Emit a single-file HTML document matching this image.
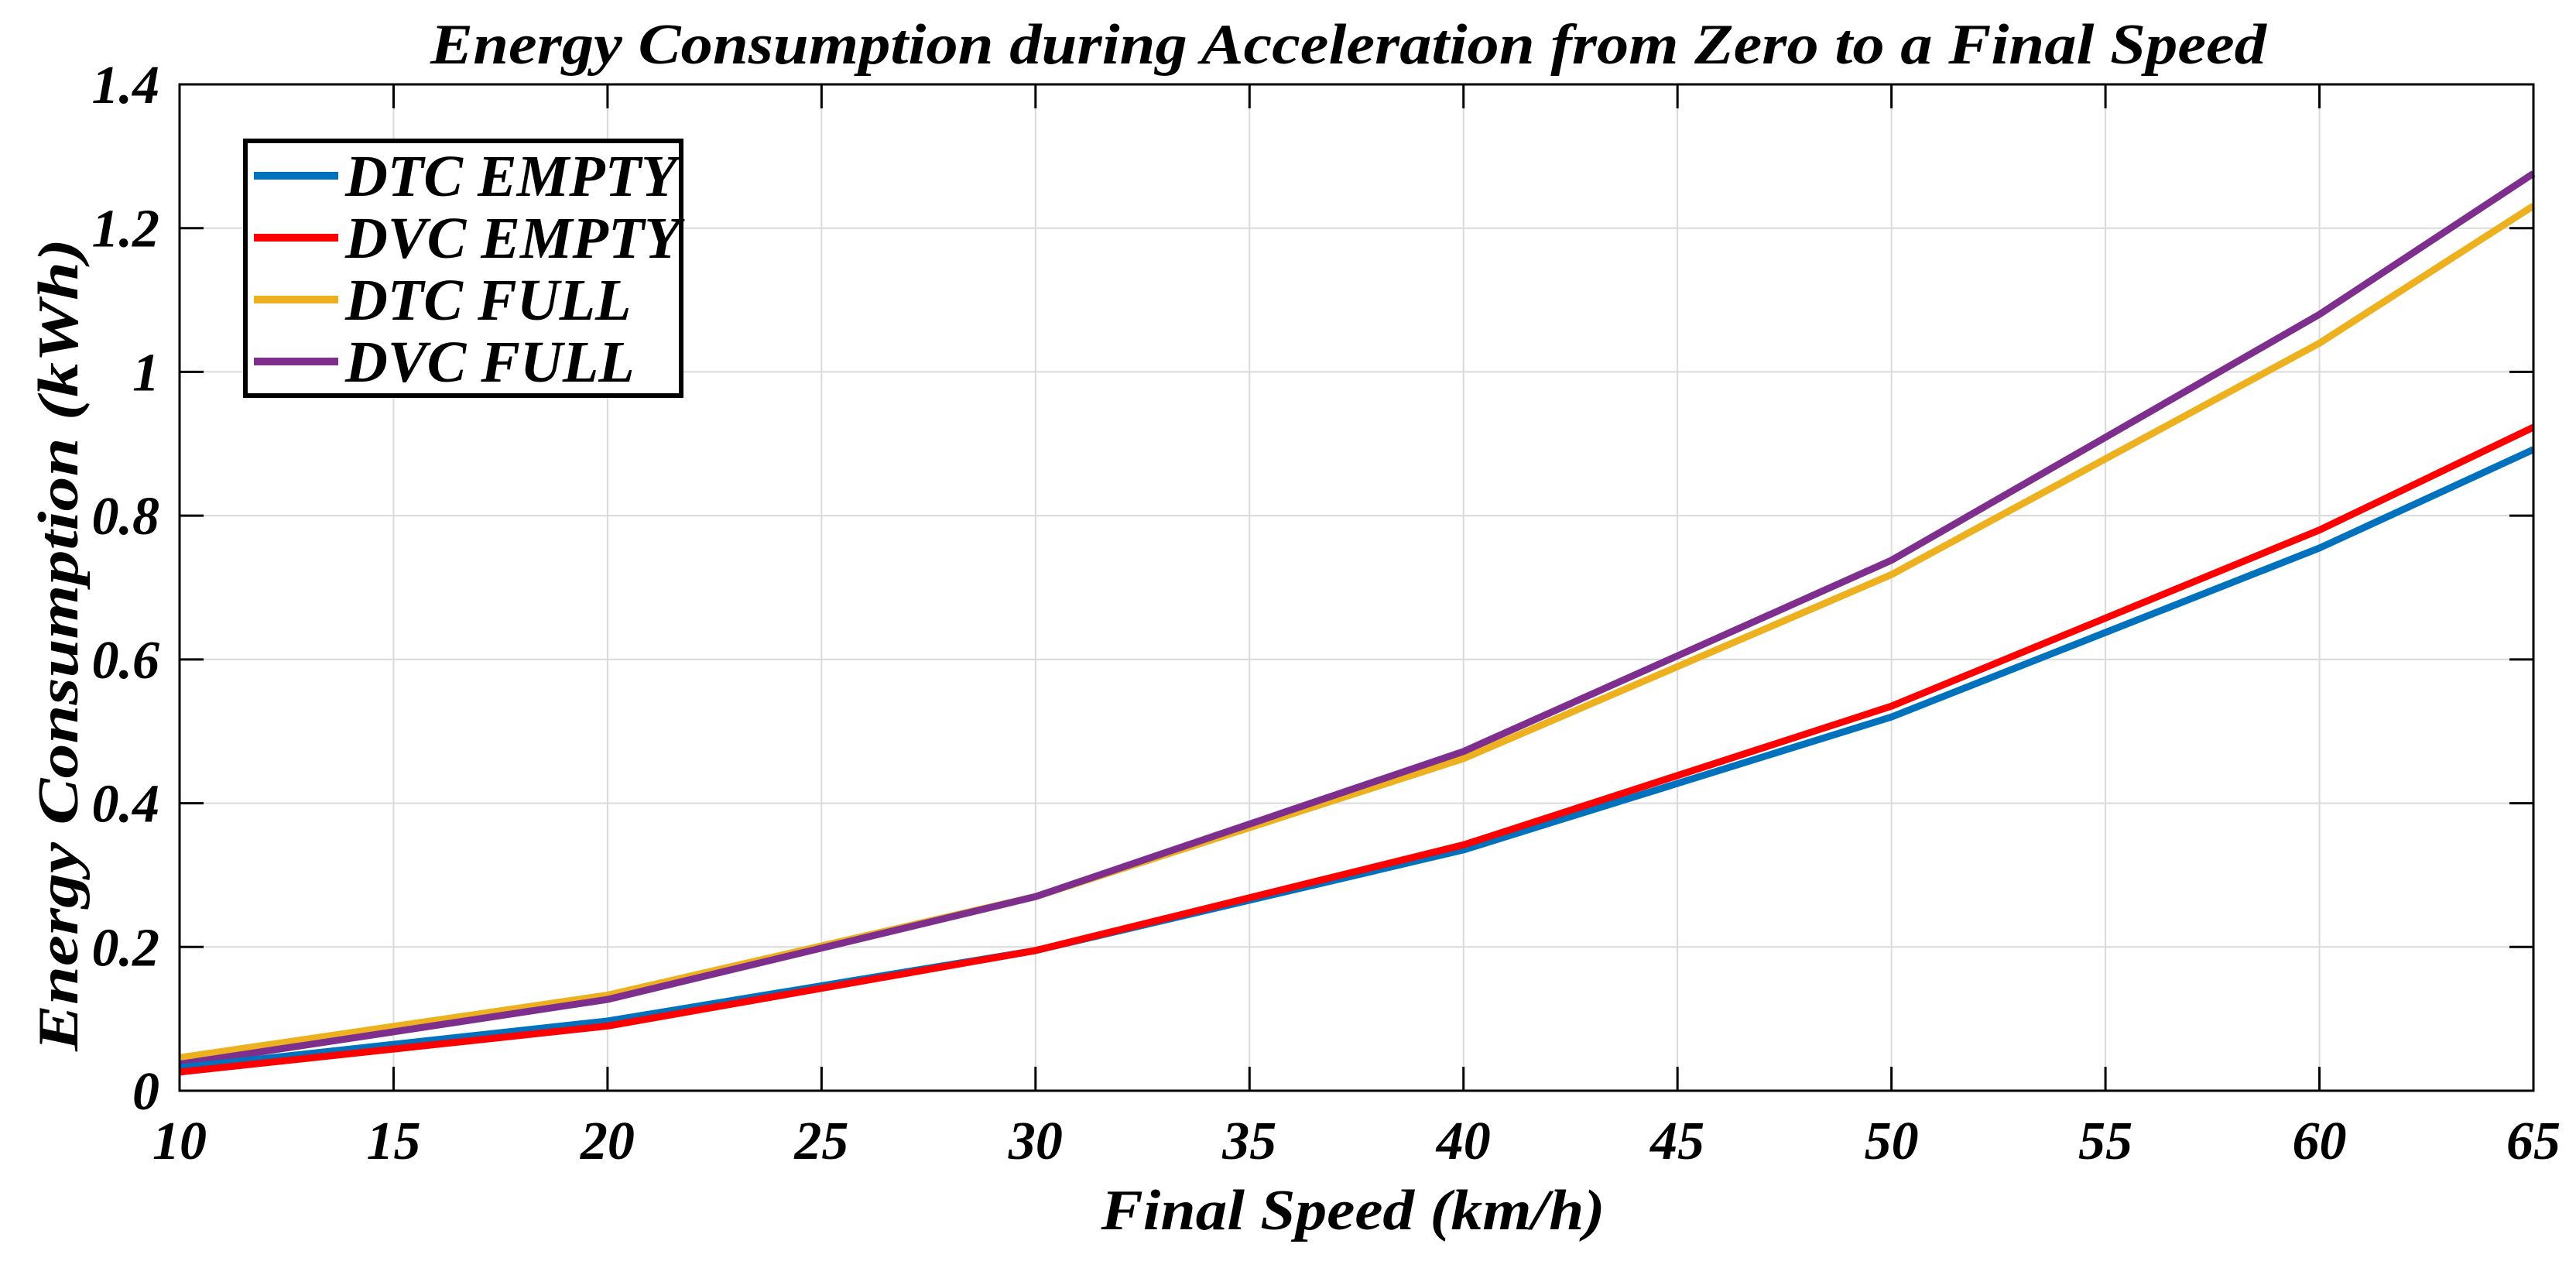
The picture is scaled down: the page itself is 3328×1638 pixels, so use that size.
<!DOCTYPE html>
<html><head><meta charset="utf-8"><style>
html,body{margin:0;padding:0;background:#fff;}
svg{display:block;font-family:"Liberation Serif",serif;font-weight:bold;font-style:italic;}
</style></head><body>
<svg id="chart" width="3328" height="1638" viewBox="0 0 3328 1638" xmlns="http://www.w3.org/2000/svg">
<rect x="0" y="0" width="3328" height="1638" fill="#fff"/>
<g id="grid"></g>
<g id="series"></g>
<g id="axes"></g>
<text x="1742" y="82" font-size="74" text-anchor="middle" textLength="2372" lengthAdjust="spacingAndGlyphs">Energy Consumption during Acceleration from Zero to a Final Speed</text>
<text x="1748" y="1588" font-size="74" text-anchor="middle" textLength="651" lengthAdjust="spacingAndGlyphs">Final Speed (km/h)</text>
<text x="0" y="0" font-size="74" text-anchor="middle" textLength="1050" lengthAdjust="spacingAndGlyphs" transform="translate(100,833) rotate(-90)">Energy Consumption (kWh)</text>
<g id="legend"></g>
</svg>
<script>
const speeds = [10, 20, 30, 40, 50, 60, 65];
const dtcEmpty = [0.032, 0.097, 0.195, 0.335, 0.52, 0.755, 0.892];
const dvcEmpty = [0.026, 0.09, 0.195, 0.342, 0.535, 0.78, 0.923];
const dtcFull = [0.046, 0.133, 0.27, 0.462, 0.718, 1.04, 1.231];
const dvcFull = [0.037, 0.127, 0.27, 0.472, 0.738, 1.08, 1.276];
const seriesNames = ["DTC EMPTY", "DVC EMPTY", "DTC FULL", "DVC FULL"];
const xTicks = [10, 15, 20, 25, 30, 35, 40, 45, 50, 55, 60, 65];
const yTicks = [0, 0.2, 0.4, 0.6, 0.8, 1, 1.2, 1.4];
const yTickLabels = ["0", "0.2", "0.4", "0.6", "0.8", "1", "1.2", "1.4"];

const NS = "http://www.w3.org/2000/svg";
const L = 232, R = 3273, T = 109, B = 1409;
const X = v => L + (v - 10) / 55 * (R - L);
const Y = v => B - v / 1.4 * (B - T);
function mk(tag, attrs, parent) {
  const e = document.createElementNS(NS, tag);
  for (const k in attrs) e.setAttribute(k, attrs[k]);
  parent.appendChild(e);
  return e;
}
const grid = document.getElementById("grid");
const axes = document.getElementById("axes");
xTicks.forEach(t => {
  const g = mk("line", {x1: X(t), x2: X(t), y1: T, y2: B, stroke: "#dadada", "stroke-width": 2}, grid);
  
  
  const a = mk("line", {x1: X(t), x2: X(t), y1: B, y2: B - 31, stroke: "#000", "stroke-width": 3}, axes);
  
  
  const b = mk("line", {x1: X(t), x2: X(t), y1: T, y2: T + 31, stroke: "#000", "stroke-width": 3}, axes);
  
  
  const tx = mk("text", {x: X(t), y: 1497, "font-size": 70, "text-anchor": "middle"}, axes);
  tx.textContent = t;
  
  
});
yTicks.forEach((t, i) => {
  const g = mk("line", {x1: L, x2: R, y1: Y(t), y2: Y(t), stroke: "#dadada", "stroke-width": 2}, grid);
  
  
  const a = mk("line", {x1: L, x2: L + 31, y1: Y(t), y2: Y(t), stroke: "#000", "stroke-width": 3}, axes);
  
  
  const b = mk("line", {x1: R, x2: R - 31, y1: Y(t), y2: Y(t), stroke: "#000", "stroke-width": 3}, axes);
  
  
  const tx = mk("text", {x: 206, y: Y(t) + 24, "font-size": 70, "text-anchor": "end"}, axes);
  tx.textContent = yTickLabels[i];
  
  
});
const frame = mk("rect", {x: L, y: T, width: R - L, height: B - T, fill: "none", stroke: "#000", "stroke-width": 3}, axes);



const colors = ["#0072bd", "#ff0000", "#edb120", "#7e2f8e"];
const allSeries = [dtcEmpty, dvcEmpty, dtcFull, dvcFull];
const sg = document.getElementById("series");
const drawOrder = [2, 3, 0, 1];
drawOrder.forEach(i => {
  const pts = speeds.map((s, j) => X(s) + "," + Y(allSeries[i][j])).join(" ");
  const p = mk("polyline", {points: pts, fill: "none", stroke: colors[i], "stroke-width": 9, "stroke-linejoin": "round"}, sg);
  
  
});

const lg = document.getElementById("legend");
const box = mk("rect", {x: 317, y: 182, width: 563, height: 329, fill: "#fff", stroke: "#000", "stroke-width": 6}, lg);


seriesNames.forEach((n, i) => {
  const yy = 227 + i * 80;
  const ln = mk("line", {x1: 328, x2: 437, y1: yy, y2: yy, stroke: colors[i], "stroke-width": 10}, lg);
  
  
  const tx = mk("text", {x: 446, y: yy + 26, "font-size": 76}, lg);
  tx.textContent = n;
  
  
});
</script>
</body></html>
